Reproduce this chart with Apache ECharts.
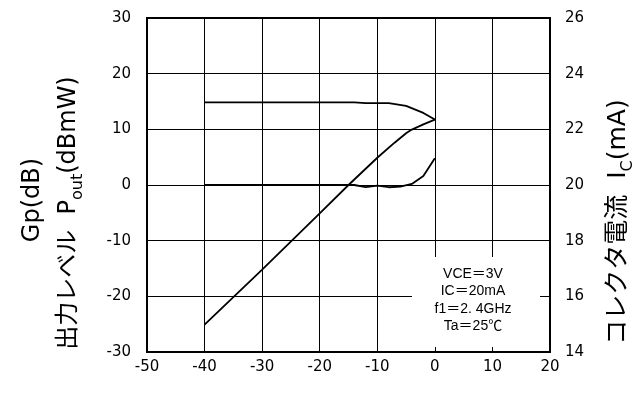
<!DOCTYPE html>
<html>
<head>
<meta charset="utf-8">
<script src="https://cdn.jsdelivr.net/npm/echarts@6/dist/echarts.min.js"></script>
<style>
html,body{margin:0;padding:0;background:#fff;}
#c{width:635px;height:394px;}
</style>
</head>
<body>
<div id="c"></div>
<script>
// Input power (dBm) values of the sampled points
var pinGp   = [-40, -30, -20, -14, -12, -8, -5, -2, 0];
var gpVals  = [14.85, 14.85, 14.85, 14.85, 14.7, 14.7, 14.2, 12.95, 11.75];
var pinPout = [-40, -30, -20, -15, -10, -7, -5, -4, -2, 0];
var poutVals= [-25.1, -15.2, -5.1, 0, 4.9, 7.6, 9.3, 9.95, 10.9, 11.75];
var pinIc   = [-40, -30, -20, -14, -12, -10, -8, -6, -4, -2, 0];
var icVals  = [20, 20, 20, 20, 19.92, 19.98, 19.92, 19.94, 20.04, 20.32, 20.96];
var xTicks = {min: -50, max: 20, interval: 10};
var yLeftTicks = {min: -30, max: 30, interval: 10};
var yRightTicks = {min: 14, max: 26, interval: 2};
var notes = ['VCE＝3V', 'IC＝20mA', 'f1＝2. 4GHz', 'Ta＝25℃'];

function pairs(xs, ys){ return xs.map(function(x,i){ return [x, ys[i]]; }); }

var FONT = '"DejaVu Sans", "Noto Sans CJK JP", sans-serif';
var NOTEFONT = '"Liberation Sans", "Noto Sans CJK JP", sans-serif';
var chart = echarts.init(document.getElementById('c'), null, {renderer:'canvas'});
var lineStyle = {color:'#000', width:1.8};
var option = {
  animation: false,
  backgroundColor: '#fff',
  grid: {left:147, right:85, top:18, bottom:42, show:true, borderColor:'#000', borderWidth:2, backgroundColor:'transparent'},
  xAxis: {
    type:'value', min:xTicks.min, max:xTicks.max, interval:xTicks.interval,
    axisLine:{show:true, onZero:false, lineStyle:{color:'#000', width:2}},
    axisTick:{show:false},
    splitLine:{show:true, lineStyle:{color:'#000', width:1}},
    axisLabel:{color:'#000', fontSize:15, fontFamily:FONT, margin:8}
  },
  yAxis: [{
    type:'value', min:yLeftTicks.min, max:yLeftTicks.max, interval:yLeftTicks.interval,
    axisLine:{show:true, onZero:false, lineStyle:{color:'#000', width:2}},
    axisTick:{show:false},
    splitLine:{show:true, lineStyle:{color:'#000', width:1}},
    axisLabel:{color:'#000', fontSize:15, fontFamily:FONT, margin:16}
  },{
    type:'value', position:'right', min:yRightTicks.min, max:yRightTicks.max, interval:yRightTicks.interval,
    axisLine:{show:true, onZero:false, lineStyle:{color:'#000', width:2}},
    axisTick:{show:false},
    splitLine:{show:false},
    axisLabel:{color:'#000', fontSize:15, fontFamily:FONT, margin:15}
  }],
  series: [
    {name:'Gp', type:'line', data:pairs(pinGp, gpVals), showSymbol:false, lineStyle:lineStyle, z:5},
    {name:'Pout', type:'line', data:pairs(pinPout, poutVals), showSymbol:false, lineStyle:lineStyle, z:5},
    {name:'Ic', type:'line', yAxisIndex:1, data:pairs(pinIc, icVals), showSymbol:false, lineStyle:lineStyle, z:5}
  ],
  graphic: [
    {type:'rect', shape:{x:412, y:257, width:128, height:90}, style:{fill:'#fff'}, z:20},
    {type:'text', x:473, y:300, z:21, style:{text:notes.join('\n'), font:'14px ' + NOTEFONT, fill:'#000', textAlign:'center', textVerticalAlign:'middle', lineHeight:17.5}},
    {type:'text', x:33, y:200, rotation:Math.PI/2, z:21, style:{text:'Gp(dB)', font:'24px ' + FONT, fill:'#000', textAlign:'center', textVerticalAlign:'middle'}},
    {type:'text', x:70, y:213, rotation:Math.PI/2, z:21, style:{
      text:'{a|出力レベル  P}{s|out}{a|(dBmW)}', textAlign:'center', textVerticalAlign:'middle',
      rich:{a:{fontSize:24, fontFamily:FONT, fill:'#000', color:'#000', verticalAlign:'top', lineHeight:26},
            s:{fontSize:16, fontFamily:FONT, fill:'#000', color:'#000', verticalAlign:'top', padding:[13,0,0,0], lineHeight:18}}}},
    {type:'text', x:619, y:222, rotation:Math.PI/2, z:21, style:{
      text:'{a|コレクタ電流  I}{s|C}{a|(mA)}', textAlign:'center', textVerticalAlign:'middle',
      rich:{a:{fontSize:25, fontFamily:FONT, fill:'#000', color:'#000', verticalAlign:'top', lineHeight:27},
            s:{fontSize:16, fontFamily:FONT, fill:'#000', color:'#000', verticalAlign:'top', padding:[14,0,0,0], lineHeight:18}}}}
  ]
};
chart.setOption(option);
</script>
</body>
</html>
